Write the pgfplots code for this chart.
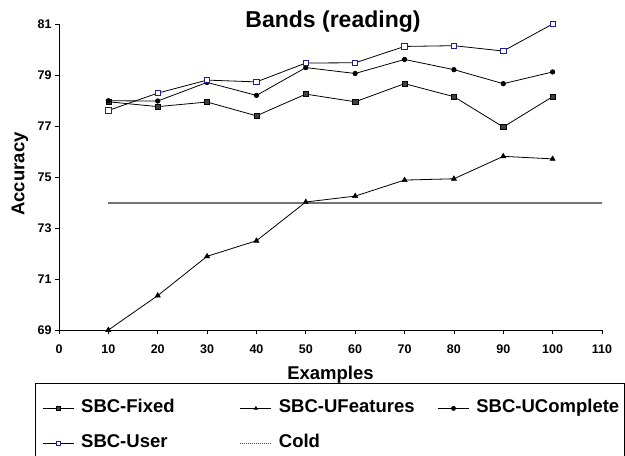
\documentclass[border=0pt]{standalone}
\usepackage{pgfplots}
\pgfplotsset{compat=1.18}
\usepackage{fontspec}
\setmainfont{Liberation Sans}
\definecolor{navyb}{RGB}{30,30,160}
\begin{document}
\begin{tikzpicture}
\begin{axis}[
  name=ax,
  at={(0,0)}, anchor=south west,
  scale only axis, width=543pt, height=306pt,
  xmin=0, xmax=110, ymin=69, ymax=81,
  xtick={0,10,...,110}, ytick={69,71,...,81},
  axis x line*=bottom, axis y line*=left,
  axis line style={line width=0.8pt},
  tick align=outside, major tick length=4pt,
  tick style={line width=0.8pt, black},
  /pgf/number format/assume math mode=true,
  tick label style={font=\fontsize{12.5}{14}\selectfont\bfseries},
  xticklabel style={yshift=-7pt},
  xlabel={Examples},
  xlabel style={font=\fontsize{18.5}{20}\selectfont\bfseries, at={(axis description cs:0.5,0)}, anchor=base, yshift=-49pt},
  title={Bands (reading)},
  title style={font=\fontsize{23}{26}\selectfont\bfseries, at={(axis description cs:0.5,1)}, anchor=base, yshift=-9pt, xshift=2.5pt},
  clip=false,
  legend columns=3,
  legend cell align=left,
  legend image code/.code={\draw[mark repeat=2,mark phase=2,#1,mark size=2pt] plot coordinates {(0pt,0pt) (15.5pt,0pt) (31pt,0pt)};},
  legend style={at={(axis description cs:-0.0442,-0.1732)}, anchor=north west,
    font=\fontsize{18.5}{20}\selectfont\bfseries, draw=black, line width=0.8pt,
    inner xsep=7pt, inner ysep=14.5pt, row sep=14pt,
    nodes={inner sep=2pt, text height=13pt, text depth=4pt},
    /tikz/every odd column/.append style={column sep=5pt},
    /tikz/every even column/.append style={column sep=6.7pt}},
]
\addplot[black, line width=0.8pt, mark=square*, mark size=2.6pt, mark options={fill=black!75, draw=black, line width=0.5pt}] coordinates {
 (10,77.95) (20,77.76) (30,77.94) (40,77.40) (50,78.25) (60,77.95) (70,78.66) (80,78.15) (90,76.96) (100,78.15)};
\addlegendentry{\makebox[150pt][l]{SBC-Fixed}}
\addplot[black, line width=0.8pt, mark=triangle*, mark size=3pt, mark options={fill=black, draw=black, line width=0.5pt}] coordinates {
 (10,69.0) (20,70.35) (30,71.89) (40,72.5) (50,74.02) (60,74.25) (70,74.88) (80,74.93) (90,75.81) (100,75.71)};
\addlegendentry{\makebox[150pt][l]{SBC-UFeatures}}
\addplot[black, line width=0.8pt, mark=*, mark size=2.2pt, mark options={fill=black, draw=black}] coordinates {
 (10,77.99) (20,77.98) (30,78.71) (40,78.2) (50,79.29) (60,79.06) (70,79.61) (80,79.21) (90,78.66) (100,79.12)};
\addlegendentry{\makebox[139pt][l]{SBC-UComplete}}
\addplot[black, line width=0.8pt, mark=square*, mark size=2.7pt, mark options={fill=white, draw=navyb, line width=0.8pt}] coordinates {
 (10,77.61) (20,78.29) (30,78.8) (40,78.73) (50,79.47) (60,79.48) (70,80.12) (80,80.15) (90,79.94) (100,81.0)};
\addlegendentry{\makebox[150pt][l]{SBC-User}}
\addplot[black!55, line width=2pt, forget plot] coordinates {(10,74.0) (110,74.0)};
\addlegendimage{black!75, line width=1pt, densely dotted}
\addlegendentry{\makebox[150pt][l]{Cold}}
\end{axis}
\node[rotate=90, anchor=center, font=\fontsize{18.5}{20}\selectfont\bfseries, inner sep=0pt] at ([xshift=-39pt, yshift=3pt]ax.west) {Accuracy};
\pgfresetboundingbox
\path[use as bounding box] ([xshift=-59pt,yshift=-126pt]ax.south west) rectangle ([xshift=566pt,yshift=330pt]ax.south west);
\end{tikzpicture}
\end{document}
